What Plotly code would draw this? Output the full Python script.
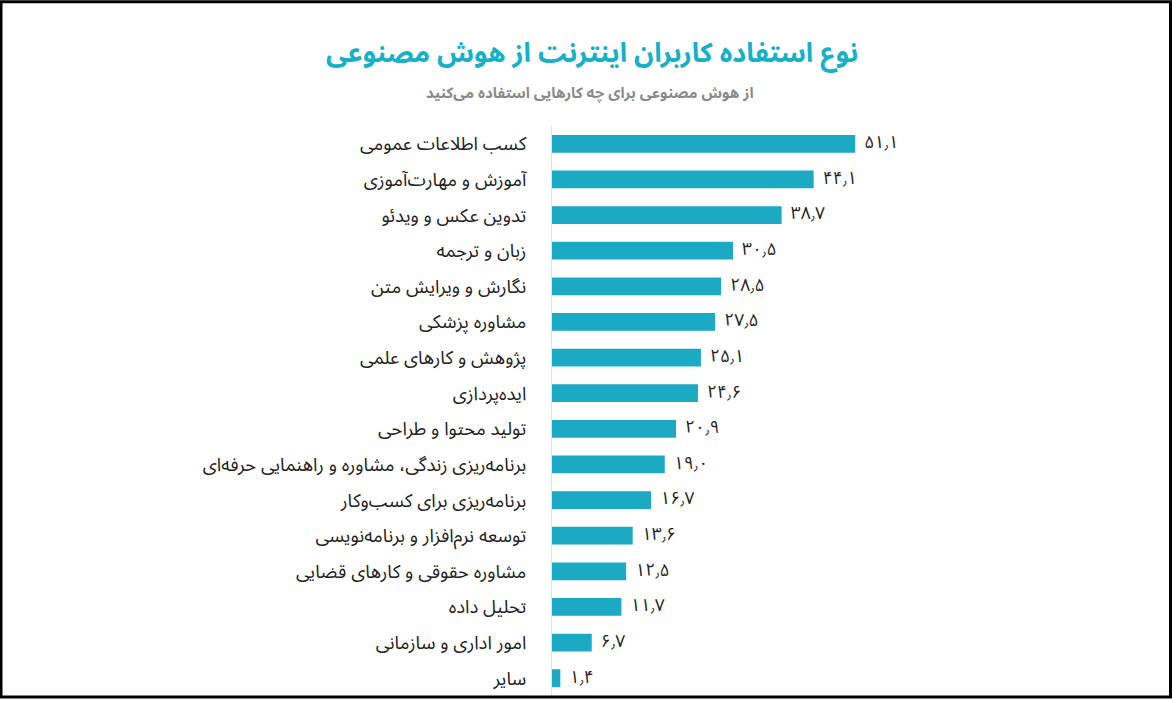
import plotly.graph_objects as go

categories = [
    "کسب اطلاعات عمومی",
    "آموزش و مهارت‌آموزی",
    "تدوین عکس و ویدئو",
    "زبان و ترجمه",
    "نگارش و ویرایش متن",
    "مشاوره پزشکی",
    "پژوهش و کارهای علمی",
    "ایده‌پردازی",
    "تولید محتوا و طراحی",
    "برنامه‌ریزی زندگی، مشاوره و راهنمایی حرفه‌ای",
    "برنامه‌ریزی برای کسب‌وکار",
    "توسعه نرم‌افزار و برنامه‌نویسی",
    "مشاوره حقوقی و کارهای قضایی",
    "تحلیل داده",
    "امور اداری و سازمانی",
    "سایر",
]
values = [51.1, 44.1, 38.7, 30.5, 28.5, 27.5, 25.1, 24.6, 20.9, 19.0, 16.7, 13.6, 12.5, 11.7, 6.7, 1.4]

title_text = "نوع استفاده کاربران اینترنت از هوش مصنوعی"
subtitle_text = "از هوش مصنوعی برای چه کارهایی استفاده می‌کنید"

FA_DIGITS = str.maketrans("0123456789.", "۰۱۲۳۴۵۶۷۸۹٫")
value_labels = ["\u00a0\u00a0" + f"{v:.1f}".translate(FA_DIGITS) for v in values]

W, H = 1172, 701
ML, MR, MT, MB = 552, 264, 126, 2
PW = W - ML - MR
PH = H - MT - MB

FONT = "Noto Sans Arabic, DejaVu Sans, sans-serif"

fig = go.Figure()
fig.add_trace(go.Bar(
    x=values,
    y=categories,
    orientation="h",
    marker=dict(color="#1ba9c4", line=dict(width=0)),
    hoverinfo="skip",
))
fig.add_trace(go.Scatter(
    x=values,
    y=categories,
    mode="text",
    text=value_labels,
    textposition="middle right",
    textfont=dict(size=17.5, color="#222222", family=FONT),
    cliponaxis=False,
    hoverinfo="skip",
))

fig.update_layout(
    width=W, height=H,
    margin=dict(l=ML, r=MR, t=MT, b=MB),
    paper_bgcolor="white",
    plot_bgcolor="white",
    bargap=0.5,
    showlegend=False,
    font=dict(family=FONT, color="#222222"),
    xaxis=dict(range=[0, 60], visible=False, fixedrange=True),
    yaxis=dict(
        categoryorder="array",
        categoryarray=categories[::-1],
        range=[-0.5, len(categories) - 0.5],
        showgrid=False,
        zeroline=False,
        showline=True,
        linecolor="#e2e2e2",
        linewidth=1,
        ticks="",
        ticklabelstandoff=21,
        tickfont=dict(size=18.5, color="#222222", family=FONT),
        fixedrange=True,
    ),
    annotations=[
        dict(text="<b>" + title_text + "</b>", xref="paper", yref="paper",
             x=(592 - ML) / PW, y=(H - 53 - MB) / PH, xanchor="center", yanchor="middle",
             showarrow=False, font=dict(size=27, color="#16b1c6", family=FONT)),
        dict(text="<b>" + subtitle_text + "</b>", xref="paper", yref="paper",
             x=(590 - ML) / PW, y=(H - 93 - MB) / PH, xanchor="center", yanchor="middle",
             showarrow=False, font=dict(size=15, color="#8a8a8a", family=FONT)),
    ],
    shapes=[
        dict(type="rect", xref="paper", yref="paper",
             x0=-(ML - 1) / PW, x1=1 + (MR - 1.5) / PW,
             y0=-(MB - 1) / PH, y1=1 + (MT - 1) / PH,
             line=dict(color="black", width=3), fillcolor="rgba(0,0,0,0)", layer="above"),
    ],
)

fig.write_html(
    "out.html",
    config=dict(displayModeBar=False),
    post_script="document.body.style.margin='0';document.body.style.overflow='hidden';",
)
